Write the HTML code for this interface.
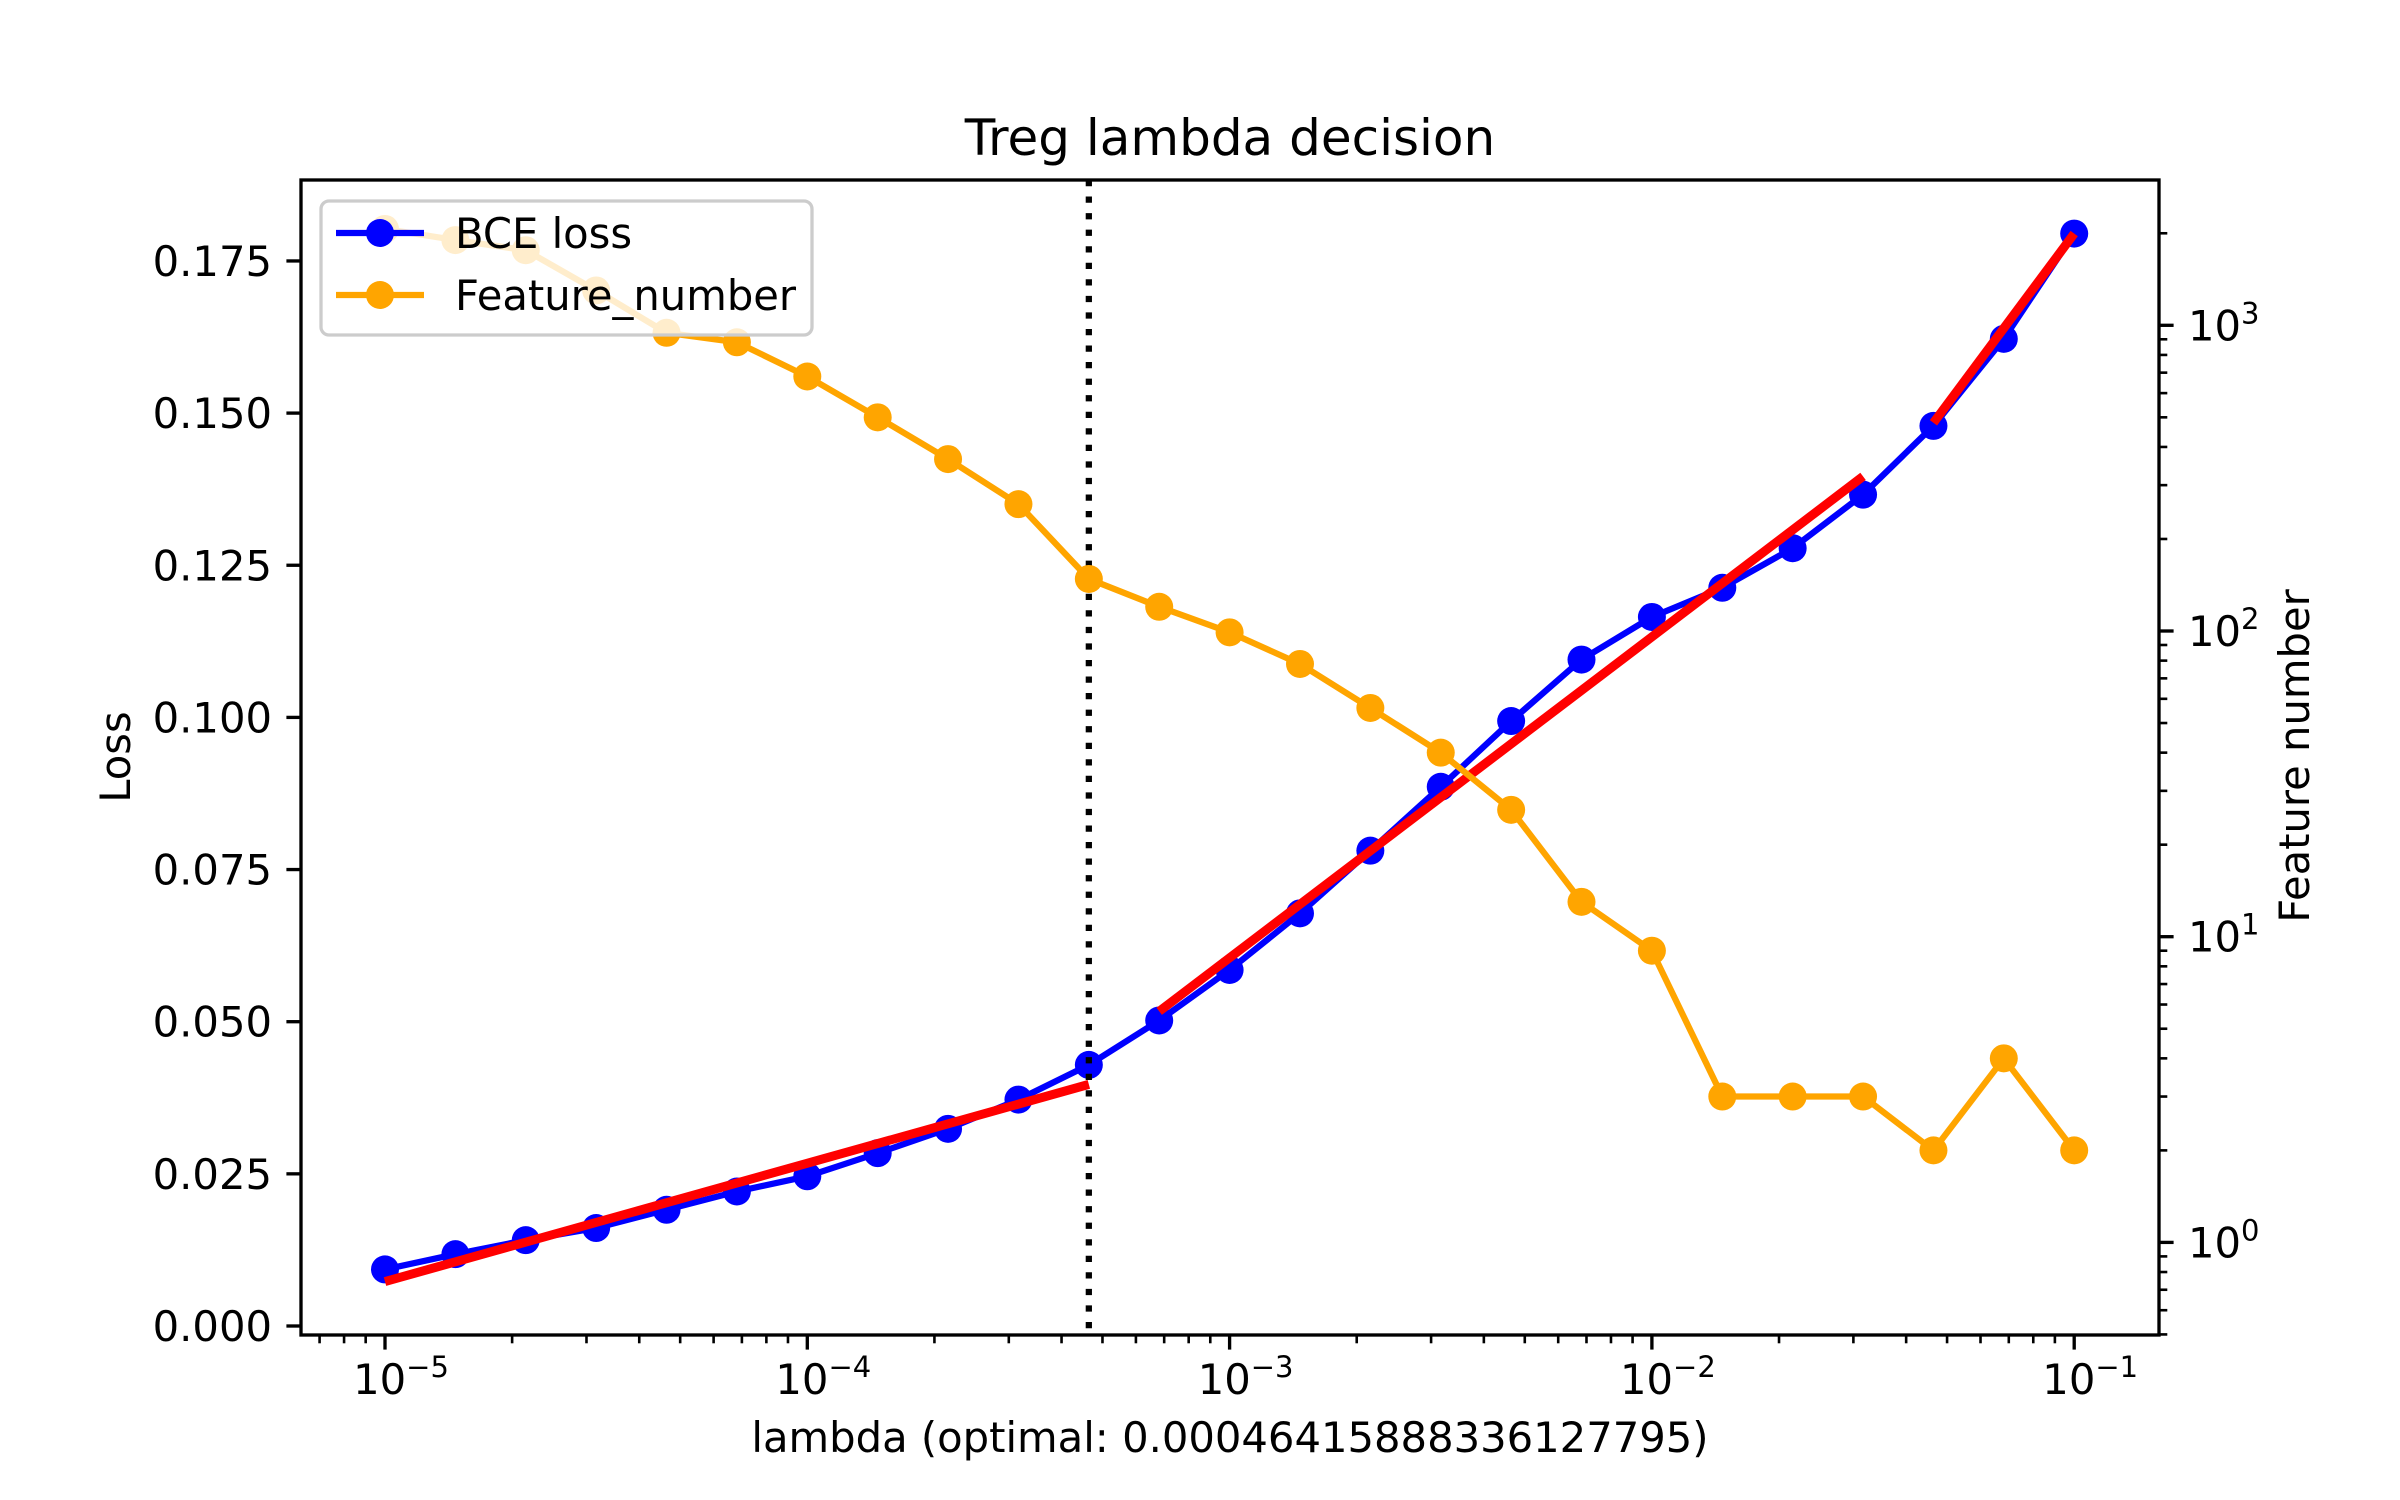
<!DOCTYPE html>
<html><head><meta charset="utf-8"><style>
html,body{margin:0;padding:0;background:#fff;}
svg{display:block;font-family:"DejaVu Sans","Liberation Sans",sans-serif;}
</style></head><body>
<svg id="chart" width="2400" height="1500" viewBox="0 0 2400 1500" xmlns="http://www.w3.org/2000/svg">
<rect width="2400" height="1500" fill="#fff"/>
<g id="plot"></g>
</svg>
<script>
const lambdaExps = [-5,-4.8333,-4.6667,-4.5,-4.3333,-4.1667,-4,-3.8333,-3.6667,-3.5,-3.3333,-3.1667,-3,-2.8333,-2.6667,-2.5,-2.3333,-2.1667,-2,-1.8333,-1.6667,-1.5,-1.3333,-1.1667,-1];
const bceLoss = [0.0093,0.0118,0.0141,0.0161,0.0191,0.0221,0.0246,0.0284,0.0324,0.0372,0.0429,0.0502,0.0585,0.0678,0.0781,0.0886,0.0994,0.1095,0.1165,0.1213,0.1278,0.1366,0.1479,0.1622,0.1795];
const featureNumber = [2066,1900,1760,1300,945,880,680,500,365,260,148,120,99,78,56,40,26,13,9,3,3,3,2,4,2];
const fitStartExp = [-5,-3.1667,-1.3333];
const fitEndExp = [-3.3333,-1.5,-1];
const fitStartLoss = [0.0073,0.0517,0.1484];
const fitEndLoss = [0.0397,0.1396,0.1795];
const optimalLambda = 0.00046415888336127795;
const lossTicks = [0,0.025,0.05,0.075,0.1,0.125,0.15,0.175];
const lossTickLabels = ["0.000","0.025","0.050","0.075","0.100","0.125","0.150","0.175"];
const xTickExps = [-5,-4,-3,-2,-1];
const yRightTickExps = [0,1,2,3];

const L=301,R=2159,T=180,B=1335;
const x0=385, dec=422.3;
const sx = e => x0 + (e+5)*dec;
const syL = v => 1326 - v*6086;
const syR = v => 1242.4 - Math.log10(v)*305.7;
const NS="http://www.w3.org/2000/svg";
const g=document.getElementById('plot');
function mk(tag, attrs, parent){const el=document.createElementNS(NS,tag);for(const k in attrs)el.setAttribute(k,attrs[k]);(parent||g).appendChild(el);return el;}

const defs=mk('defs',{});
const cp=mk('clipPath',{id:'clip'},defs);
mk('rect',{x:L,y:T,width:R-L,height:B-T},cp);

const blue=mk('g',{'clip-path':'url(#clip)'});


mk('polyline',{points:lambdaExps.map((e,i)=>sx(e)+','+syL(bceLoss[i])).join(' '),fill:'none',stroke:'#0000ff','stroke-width':6.25,'stroke-linejoin':'round'},blue);
lambdaExps.forEach((e,i)=>{const c=mk('circle',{cx:sx(e),cy:syL(bceLoss[i]),r:14,fill:'#0000ff'},blue);

});

fitStartExp.forEach((e,i)=>{const l=mk('line',{x1:sx(e),y1:syL(fitStartLoss[i]),x2:sx(fitEndExp[i]),y2:syL(fitEndLoss[i]),stroke:'#ff0000','stroke-width':9,'clip-path':'url(#clip)'});

});

const opt=mk('line',{x1:sx(Math.log10(optimalLambda)),y1:T,x2:sx(Math.log10(optimalLambda)),y2:B,stroke:'#000','stroke-width':6.25,'stroke-dasharray':'6.25 10.3'});



const org=mk('g',{'clip-path':'url(#clip)'});


mk('polyline',{points:lambdaExps.map((e,i)=>sx(e)+','+syR(featureNumber[i])).join(' '),fill:'none',stroke:'#ffa500','stroke-width':6.25,'stroke-linejoin':'round'},org);
lambdaExps.forEach((e,i)=>{const c=mk('circle',{cx:sx(e),cy:syR(featureNumber[i]),r:14,fill:'#ffa500'},org);

});

const sp=mk('rect',{x:L,y:T,width:R-L,height:B-T,fill:'none',stroke:'#000','stroke-width':3.33});



lossTicks.forEach((v,i)=>{const y=syL(v);
mk('line',{x1:L-14.6,y1:y,x2:L,y2:y,stroke:'#000','stroke-width':3.33});
const t=mk('text',{x:L-29,y:y+15,'font-size':41.7,'text-anchor':'end',fill:'#000'});t.textContent=lossTickLabels[i];

});

for(let d=-6;d<=-1;d++){for(let m=2;m<=9;m++){const e=d+Math.log10(m);const x=sx(e);if(x>L&&x<R)mk('line',{x1:x,y1:B,x2:x,y2:B+8.3,stroke:'#000','stroke-width':2.6});}}
xTickExps.forEach(e=>{const x=sx(e);
mk('line',{x1:x,y1:B,x2:x,y2:B+14.6,stroke:'#000','stroke-width':3.33});
const t=mk('text',{x:x+16,y:1394,'font-size':41.7,'text-anchor':'middle',fill:'#000'});


const a=mk('tspan',{},t);a.textContent='10';
const b=mk('tspan',{dy:-17,'font-size':29},t);b.textContent='\u2212'+(-e);});

for(let d=-1;d<=3;d++){for(let m=2;m<=9;m++){const v=Math.pow(10,d)*m;const y=syR(v);if(y>T&&y<B)mk('line',{x1:R,y1:y,x2:R+8.3,y2:y,stroke:'#000','stroke-width':2.6});}}
yRightTickExps.forEach(e=>{const y=syR(Math.pow(10,e));
mk('line',{x1:R,y1:y,x2:R+14.6,y2:y,stroke:'#000','stroke-width':3.33});
const t=mk('text',{x:R+29,y:y+15,'font-size':41.7,fill:'#000'});


const a=mk('tspan',{},t);a.textContent='10';
const b=mk('tspan',{dy:-17,'font-size':29},t);b.textContent=String(e);});

let t=mk('text',{x:1230,y:155,'font-size':50,'text-anchor':'middle',fill:'#000'});t.textContent='Treg lambda decision';


t=mk('text',{x:1230,y:1452,'font-size':41.7,'text-anchor':'middle',fill:'#000'});t.textContent='lambda (optimal: 0.00046415888336127795)';


t=mk('text',{x:0,y:0,'font-size':41.7,'text-anchor':'middle',fill:'#000',transform:'translate(130,757) rotate(-90)'});t.textContent='Loss';


t=mk('text',{x:0,y:0,'font-size':41.7,'text-anchor':'middle',fill:'#000',transform:'translate(2309,756) rotate(-90)'});t.textContent='Feature number';



const lg=mk('g',{});


mk('rect',{x:321,y:201,width:491,height:134,rx:8,fill:'#fff','fill-opacity':0.8,stroke:'#cccccc','stroke-width':3.3},lg);
const items=[['BCE loss','#0000ff',233],['Feature_number','#ffa500',295]];
items.forEach(it=>{const e=mk('g',{},lg);


mk('line',{x1:336,y1:it[2],x2:424,y2:it[2],stroke:it[1],'stroke-width':6.25},e);
mk('circle',{cx:380,cy:it[2],r:14,fill:it[1]},e);
const tt=mk('text',{x:455,y:it[2]+15,'font-size':41.7,fill:'#000'},e);tt.textContent=it[0];});
</script>
</body></html>
